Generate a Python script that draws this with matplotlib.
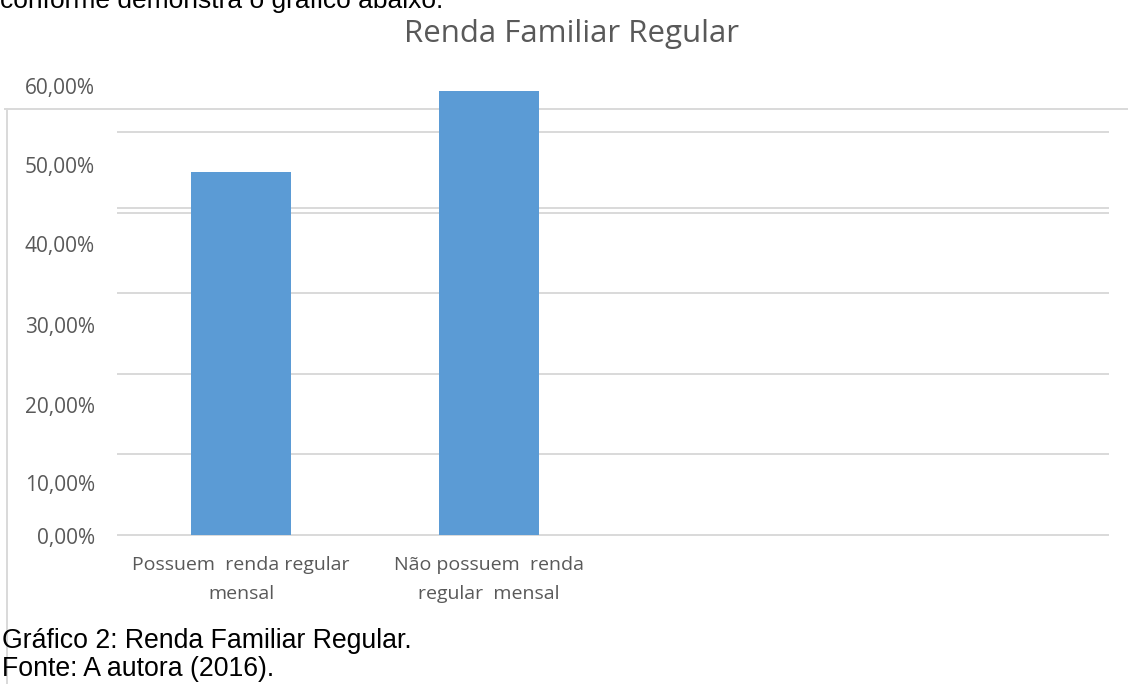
import matplotlib.pyplot as plt
from matplotlib.lines import Line2D

# dados do grafico
categorias = ['Possuem  renda regular\nmensal', 'Não possuem  renda\nregular  mensal']
valores = [45.0, 55.1]  # em %

# rotulos do eixo y (na imagem original ficam deslocados das linhas de grade)
rotulos_y = ['0,00%', '10,00%', '20,00%', '30,00%', '40,00%', '50,00%', '60,00%']
pos_rotulos_y = [-0.1, 6.4, 16.1, 26.0, 36.1, 45.9, 55.7]
grade_y = [0, 10, 20, 30, 40, 40.6, 50]

W, H = 1128, 684
fig = plt.figure(figsize=(W / 100, H / 100), dpi=100)
fig.patch.set_facecolor('white')

px = 8.06  # pixels por ponto percentual
y0, y1 = -1, 60
base = 535
ax = fig.add_axes([117 / W, (H - base - (0 - y0) * px) / H, 992 / W, (y1 - y0) * px / H])
ax.set_xlim(-0.5, 3.5)
ax.set_ylim(y0, y1)
ax.patch.set_visible(False)

cinza = '#d9d9d9'
texto = '#595959'
for g in grade_y:
    ax.axhline(g, color=cinza, lw=1.4, zorder=1)

ax.bar(range(len(valores)), valores, width=0.403, color='#5b9bd5', zorder=2)

for s in ax.spines.values():
    s.set_visible(False)
ax.set_xticks(range(len(categorias)))
ax.set_xticklabels(categorias, fontfamily='Open Sans', fontsize=14, color=texto, linespacing=1.85)
ax.set_yticks(pos_rotulos_y)
ax.set_yticklabels(rotulos_y, fontfamily='Open Sans', fontsize=15, color=texto)
ax.tick_params(axis='both', length=0)
ax.tick_params(axis='y', pad=16)
ax.tick_params(axis='x', pad=9)

# moldura da area do grafico (fica atras das barras)
fig.add_artist(Line2D([5 / W, 1], [1 - 109 / H, 1 - 109 / H], color=cinza, lw=1.4, zorder=-1))
fig.add_artist(Line2D([7 / W, 7 / W], [1 - 109 / H, 0], color=cinza, lw=1.4, zorder=-1))

fig.text(572 / W, 1 - 42 / H, 'Renda Familiar Regular', ha='center', va='baseline',
         fontfamily='Open Sans', fontsize=22.5, color=texto)

# texto do documento
fig.text(0, 1 - 8 / H, 'conforme demonstra o gráfico abaixo.', ha='left', va='baseline',
         fontfamily='Liberation Sans', fontsize=19, color='black')
fig.text(2 / W, 1 - 648 / H, 'Gráfico 2: Renda Familiar Regular.', ha='left', va='baseline',
         fontfamily='Liberation Sans', fontsize=19.2, color='black')
fig.text(2 / W, 1 - 676 / H, 'Fonte: A autora (2016).', ha='left', va='baseline',
         fontfamily='Liberation Sans', fontsize=19.2, color='black')

fig.savefig('out.png', dpi=100)
